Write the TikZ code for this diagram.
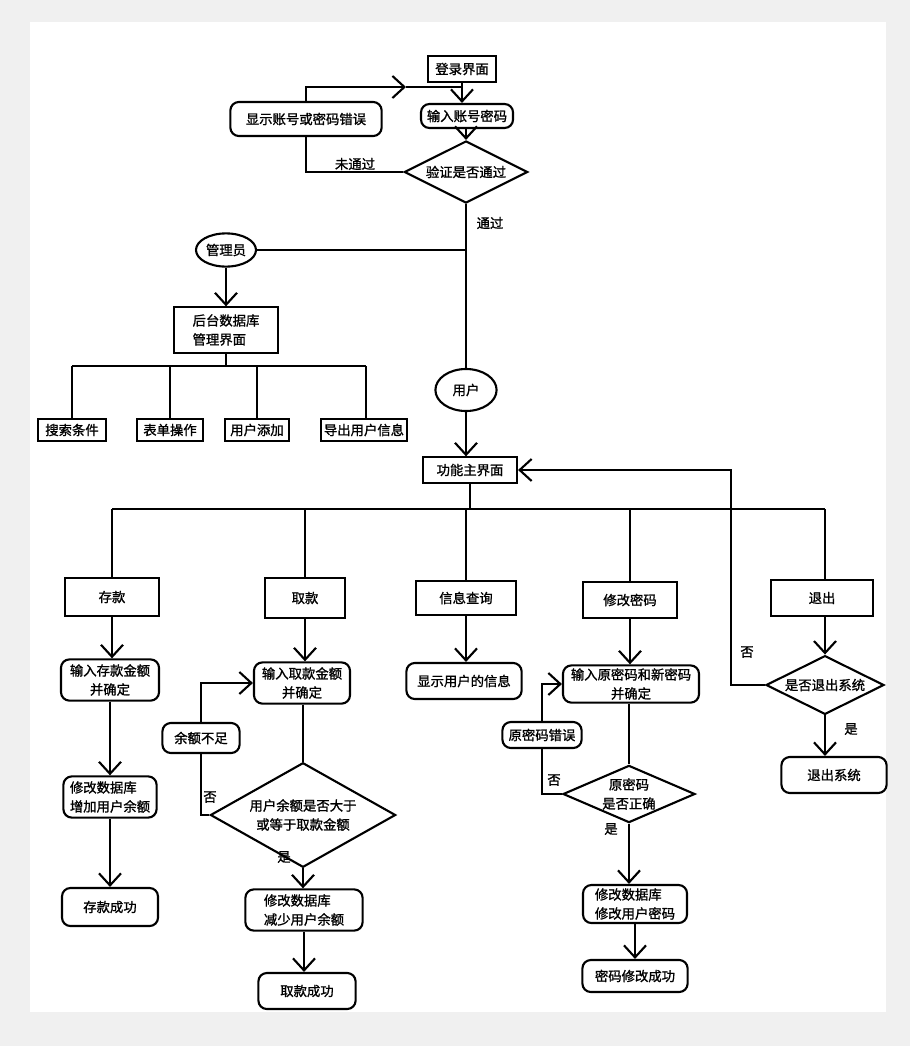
\documentclass[tikz,border=0pt]{standalone}
\usepackage{fontspec}
\newfontfamily\cjk[FakeBold=1.2]{Noto Sans CJK SC}
\usetikzlibrary{arrows.meta, shapes.geometric}
\tikzset{
    shp/.style={draw, line width=1.5pt, inner sep=2pt, font=\cjk\fontsize{9.5}{13.5}\selectfont, align=center},
    box/.style={shp, rectangle},
    rbox/.style={shp, rectangle, rounded corners=6pt},
    dia/.style={shp, diamond, inner sep=-6pt},
    oval/.style={shp, ellipse, inner sep=0pt},
    wire/.style={line width=1.5pt},
    arr/.style={wire, -{Straight Barb[length=3mm, width=5.5mm]}},
    lbl/.style={font=\cjk\fontsize{9.5}{12}\selectfont}
}

\begin{document}
\begin{tikzpicture}[x=0.025cm, y=-0.025cm]
    \useasboundingbox (0,0) rectangle (910,1046);
    \fill[gray!12] (0,0) rectangle (910,1046);
    \fill[white] (30,22) rectangle (886,1012);

    % login part
    \node[box, minimum width=1.7cm, minimum height=0.65cm] (login) at (462,69) {登录界面};
    \node[rbox, minimum width=2.3cm, minimum height=0.6cm] (input) at (467,116) {输入账号密码};
    \node[rbox, minimum width=3.78cm, minimum height=0.85cm] (err) at (306,119) {显示账号或密码错误};
    \node[dia, minimum width=3.08cm, minimum height=1.55cm] (verify) at (466,172) {验证是否通过};
    \node[lbl] (nopass) at (355,164) {未通过};
    \node[lbl] (pass) at (490,223) {通过};
    \coordinate (jmid) at (406,87);
    \coordinate (jtop) at (462,87);

    \draw[arr] (login.south) -- (login.south |- input.north);
    \draw[arr] (input.south -| verify.north) -- (verify.north);
    \draw[wire] (verify.west) -| (err.south);
    \draw[arr] (err.north) |- (jmid);
    \draw[wire] (jmid) -- (jtop);

    % admin part
    \node[oval, minimum width=1.5cm, minimum height=0.83cm] (admin) at (226,250) {管理员};
    \node[box, align=left, minimum width=2.6cm, minimum height=1.13cm] (backend) at (226,330) {后台数据库\\管理界面};
    \node[box, minimum width=1.7cm, minimum height=0.55cm] (search) at (72,430) {搜索条件};
    \node[box, minimum width=1.63cm, minimum height=0.55cm] (form) at (170,430) {表单操作};
    \node[box, minimum width=1.58cm, minimum height=0.55cm] (adduser) at (257,430) {用户添加};
    \node[box, minimum width=2.13cm, minimum height=0.55cm] (export) at (364,430) {导出用户信息};
    \coordinate (treeL) at (72,366);
    \coordinate (treeR) at (366,366);

    \draw[wire] (admin.east) -- (admin.east -| verify.south);
    \draw[arr] (admin) -- (backend);
    \draw[wire] (backend.south) -- (backend.south |- treeL);
    \draw[wire] (treeL) -- (treeR);
    \draw[wire] (treeL) -- (search.north);
    \draw[wire] (form.north |- treeL) -- (form.north);
    \draw[wire] (adduser.north |- treeL) -- (adduser.north);
    \draw[wire] (treeR) -- (treeR |- export.north);

    % user part
    \node[oval, minimum width=1.53cm, minimum height=1.05cm] (user) at (466,390) {用户};
    \node[box, minimum width=2.35cm, minimum height=0.63cm] (main) at (470,470) {功能主界面};
    \draw[wire] (verify.south) -- (user.north);
    \draw[arr] (user.south) -- (user.south |- main.north);

    \coordinate (busL) at (112,509);
    \coordinate (busR) at (825,509);
    \draw[wire] (main.south) -- (main.south |- busL);
    \draw[wire] (busL) -- (busR);

    % deposit
    \node[box, minimum width=2.33cm, minimum height=0.93cm] (deposit) at (112,597) {存款};
    \node[rbox, minimum width=2.45cm, minimum height=1.03cm] (dinput) at (110,680) {输入存款金额\\并确定};
    \node[rbox, align=left, minimum width=2.33cm, minimum height=1.03cm] (ddb) at (110,797) {修改数据库\\增加用户余额};
    \node[rbox, minimum width=2.4cm, minimum height=0.95cm] (dok) at (110,907) {存款成功};
    \draw[wire] (busL) -- (deposit.north);
    \draw[arr] (deposit.south) -- (deposit.south |- dinput.north);
    \draw[arr] (dinput) -- (ddb);
    \draw[arr] (ddb) -- (dok);

    % withdraw
    \node[box, minimum width=2.0cm, minimum height=1.0cm] (withdraw) at (305,598) {取款};
    \node[rbox, minimum width=2.4cm, minimum height=1.03cm] (winput) at (302,683) {输入取款金额\\并确定};
    \node[rbox, minimum width=1.93cm, minimum height=0.75cm] (wlack) at (201,738) {余额不足};
    \node[dia, minimum width=4.63cm, minimum height=1.75cm] (wdia) at (303,815) {用户余额是否大于\\或等于取款金额};
    \node[rbox, align=left, minimum width=2.93cm, minimum height=1.03cm] (wdb) at (304,910) {修改数据库\\减少用户余额};
    \node[rbox, minimum width=2.43cm, minimum height=0.9cm] (wok) at (307,991) {取款成功};
    \node[lbl] (wno) at (210,797) {否};
    \node[lbl] (wyes) at (284,857) {是};
    \draw[wire] (withdraw.north |- busL) -- (withdraw.north);
    \draw[arr] (withdraw.south) -- (withdraw.south |- winput.north);
    \draw[wire] (wdia.north |- winput.south) -- (wdia.north);
    \draw[wire] (wdia.west) -| (wlack.south);
    \draw[arr] (wlack.north) |- (winput.west);
    \draw[arr] (wdia.south) -- (wdia.south |- wdb.north);
    \draw[arr] (wdb.south) -- (wdb.south |- wok.north);

    % query
    \node[box, minimum width=2.5cm, minimum height=0.85cm] (query) at (466,598) {信息查询};
    \node[rbox, minimum width=2.88cm, minimum height=0.9cm] (qshow) at (464,681) {显示用户的信息};
    \draw[wire] (query.north |- busL) -- (query.north);
    \draw[arr] (query.south) -- (query.south |- qshow.north);

    % change password
    \node[box, minimum width=2.35cm, minimum height=0.9cm] (chpwd) at (630,600) {修改密码};
    \node[rbox, minimum width=3.4cm, minimum height=0.93cm] (cinput) at (631,684) {输入原密码和新密码\\并确定};
    \node[rbox, minimum width=1.98cm, minimum height=0.65cm] (cerr) at (542,735) {原密码错误};
    \node[dia, minimum width=3.3cm, minimum height=1.43cm] (cdia) at (629,794) {原密码\\是否正确};
    \node[rbox, align=left, minimum width=2.6cm, minimum height=0.95cm] (cdb) at (635,904) {修改数据库\\修改用户密码};
    \node[rbox, minimum width=2.63cm, minimum height=0.8cm] (cok) at (635,976) {密码修改成功};
    \node[lbl] (cno) at (554,780) {否};
    \node[lbl] (cyes) at (611,829) {是};
    \draw[wire] (chpwd.north |- busL) -- (chpwd.north);
    \draw[arr] (chpwd.south) -- (chpwd.south |- cinput.north);
    \draw[wire] (cdia.north |- cinput.south) -- (cdia.north);
    \draw[wire] (cdia.west) -| (cerr.south);
    \draw[arr] (cerr.north) |- (cinput.west);
    \draw[arr] (cdia.south) -- (cdia.south |- cdb.north);
    \draw[arr] (cdb) -- (cok);

    % quit
    \node[box, minimum width=2.55cm, minimum height=0.88cm] (quit) at (822,598) {退出};
    \node[dia, minimum width=2.95cm, minimum height=1.1cm] (qdia) at (825,685) {是否退出系统};
    \node[rbox, minimum width=2.63cm, minimum height=0.9cm] (qexit) at (834,775) {退出系统};
    \node[lbl] (qno) at (747,652) {否};
    \node[lbl] (qyes) at (851,729) {是};
    \coordinate (qloop) at (731,685);
    \draw[wire] (busR) -- (busR |- quit.north);
    \draw[arr] (busR |- quit.south) -- (qdia.north);
    \draw[arr] (qdia.south) -- (qdia.south |- qexit.north);
    \draw[arr] (qdia.west) -- (qloop) |- (main.east);
\end{tikzpicture}
\end{document}
